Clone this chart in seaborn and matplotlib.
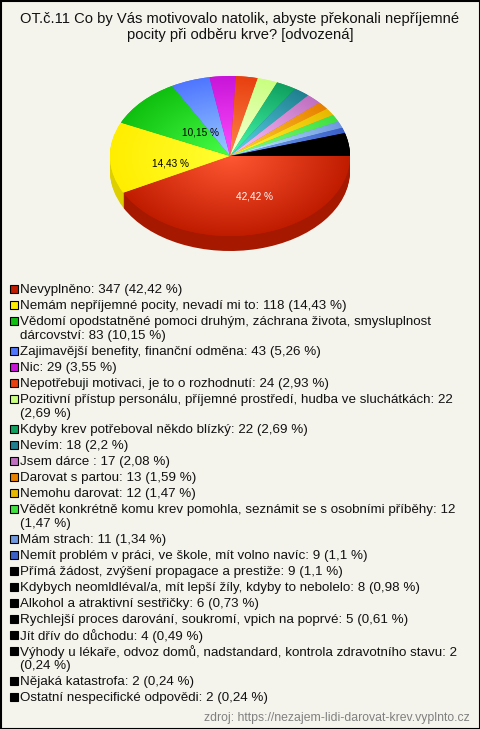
import matplotlib
matplotlib.use('Agg')
import matplotlib.pyplot as plt
import numpy as np
import seaborn as sns

counts = [347, 118, 83, 43, 29, 24, 22, 22, 18, 17, 13, 12, 12, 11, 9, 9, 8, 6, 5, 4, 2, 2, 2]
labels = [
    "Nevyplněno: 347 (42,42 %)",
    "Nemám nepříjemné pocity, nevadí mi to: 118 (14,43 %)",
    "Vědomí opodstatněné pomoci druhým, záchrana života, smysluplnost\ndárcovství: 83 (10,15 %)",
    "Zajimavější benefity, finanční odměna: 43 (5,26 %)",
    "Nic: 29 (3,55 %)",
    "Nepotřebuji motivaci, je to o rozhodnutí: 24 (2,93 %)",
    "Pozitivní přístup personálu, příjemné prostředí, hudba ve sluchátkách: 22\n(2,69 %)",
    "Kdyby krev potřeboval někdo blízký: 22 (2,69 %)",
    "Nevím: 18 (2,2 %)",
    "Jsem dárce : 17 (2,08 %)",
    "Darovat s partou: 13 (1,59 %)",
    "Nemohu darovat: 12 (1,47 %)",
    "Vědět konkrétně komu krev pomohla, seznámit se s osobními příběhy: 12\n(1,47 %)",
    "Mám strach: 11 (1,34 %)",
    "Nemít problém v práci, ve škole, mít volno navíc: 9 (1,1 %)",
    "Přímá žádost, zvýšení propagace a prestiže: 9 (1,1 %)",
    "Kdybych neomldléval/a, mít lepší žíly, kdyby to nebolelo: 8 (0,98 %)",
    "Alkohol a atraktivní sestřičky: 6 (0,73 %)",
    "Rychlejší proces darování, soukromí, vpich na poprvé: 5 (0,61 %)",
    "Jít dřív do důchodu: 4 (0,49 %)",
    "Výhody u lékaře, odvoz domů, nadstandard, kontrola zdravotního stavu: 2\n(0,24 %)",
    "Nějaká katastrofa: 2 (0,24 %)",
    "Ostatní nespecifické odpovědi: 2 (0,24 %)",
]
colors = ["#c01c00", "#ffee00", "#10c010", "#4f76ff", "#c815d8", "#e84010", "#c8ff80", "#10a060",
          "#208090", "#c070c0", "#e88000", "#e8b800", "#40e040", "#7098e0", "#3a60c8",
          "#000000", "#000000", "#000000", "#000000", "#000000", "#000000", "#000000", "#000000"]
title = "OT.č.11 Co by Vás motivovalo natolik, abyste překonali nepříjemné\npocity při odběru krve? [odvozená]"
source = "zdroj: https://nezajem-lidi-darovat-krev.vyplnto.cz"

sns.set_theme(style="white")
plt.rcParams['font.family'] = ['Liberation Sans', 'DejaVu Sans']
BG = "#f5f4ec"
W, H = 480, 729
palette = np.array(sns.color_palette(colors))

fig = plt.figure(figsize=(W / 100, H / 100), dpi=100, facecolor=BG)

# background layer in pixel coords, for title, legend and frame
bg = fig.add_axes([0, 0, 1, 1])
bg.set_xlim(0, W)
bg.set_ylim(H, 0)
bg.axis("off")
bg.add_patch(plt.Rectangle((0.5, 0.5), W - 1, H - 1, fill=False, ec="black", lw=1.5))
bg.text(240, 27, title, ha="center", va="center", fontsize=10.6, color="#111111", linespacing=1.16)
bg.text(470, 718, source, ha="right", va="center", fontsize=8.8, color="#808080")

# pie: 240x160 px ellipse, centre at (230, 156)
ax = fig.add_axes([110 / W, 1 - 236 / H, 240 / W, 160 / H])
side = palette * 0.87
for d in range(15, 0, -1):
    ax.pie(counts, colors=side, startangle=0, counterclock=False, center=(0, -d / 80), radius=1,
           wedgeprops={"linewidth": 0})

wedges, _ = ax.pie(counts, colors=palette, startangle=0, counterclock=False, radius=1,
                   wedgeprops={"linewidth": 0})

yy, xx = np.mgrid[1:-1:160j, -1:1:240j]
rr = np.clip(np.hypot(xx, yy), 0, 1)[..., None]
for w, c in zip(wedges, palette):
    light = np.clip(c * 1.3 + (0.2 if c.sum() > 0 else 0), 0, 1)
    img = ax.imshow(light * (1 - rr) + c * rr, extent=(-1, 1, -1, 1), aspect="auto", zorder=2)
    img.set_clip_path(w)

ax.set_aspect("auto")
ax.set_xlim(-1, 1)
ax.set_ylim(-1, 1)
ax.text(0.2, -0.51, "42,42 %", color="white", fontsize=7.2, ha="center", va="center", zorder=3)
ax.text(-0.5, -0.09, "14,43 %", color="black", fontsize=7.2, ha="center", va="center", zorder=3)
ax.text(-0.25, 0.29, "10,15 %", color="black", fontsize=7.2, ha="center", va="center", zorder=3)

# legend rows
y = 290
for lab, c in zip(labels, palette):
    bg.add_patch(plt.Rectangle((9.5, y - 5.5), 8, 8, fc=c, ec="black", lw=0.8))
    for line in lab.split("\n"):
        bg.text(20, y, line, ha="left", va="center", fontsize=9.6, color="#111111")
        y += 14
    y += 2

fig.savefig("out.png", dpi=100, facecolor=BG)
